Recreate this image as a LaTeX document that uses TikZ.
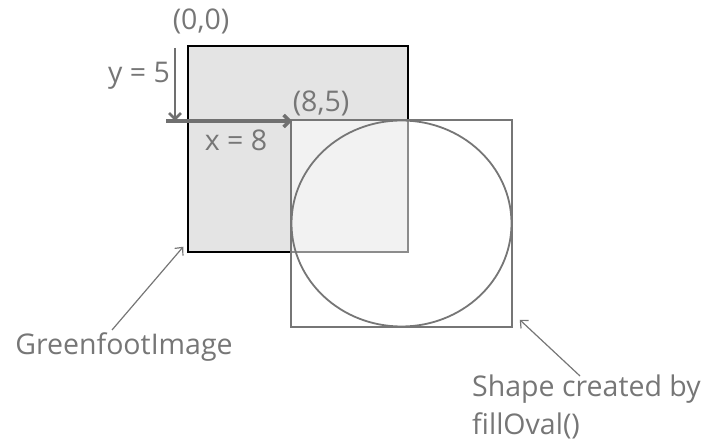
\documentclass[tikz,border=0pt]{standalone}
\usepackage{fontspec}
\setmainfont{Open Sans}
\usetikzlibrary{arrows.meta}
\definecolor{gfgray}{RGB}{118,118,118}
\definecolor{gffill}{RGB}{228,228,228}
\tikzset{
  lbl/.style={text=gfgray,font=\fontsize{28.5}{38}\selectfont,inner sep=0pt},
  axisarrow/.style={draw=gfgray!95!black,line width=3.5pt,-{Straight Barb[length=6pt,width=12pt]}},
  pointer/.style={draw=gfgray,line width=1.2pt,-{Straight Barb[length=6pt,width=11pt]}}
}
\begin{document}
\begin{tikzpicture}[x=1pt,y=-1pt]
\path[use as bounding box] (0,0) rectangle (707,446);
% image and shape
\node[draw=black,line width=1.5pt,fill=gffill,minimum width=220pt,minimum height=206pt,inner sep=0pt] (img) at (298,149) {};
\node[draw=gfgray,line width=1.5pt,fill=white,fill opacity=.55,minimum width=221pt,minimum height=207pt,inner sep=0pt] (shape) at (401.5,223.5) {};
\draw[gfgray,line width=1.8pt] (shape.center) ellipse [x radius=110pt,y radius=103pt];
% axis arrows
\coordinate (top) at (175,48);
\coordinate (corner) at (175,121);
\coordinate (left) at (166,121);
\coordinate (pt) at (292,121);
\draw[axisarrow,line width=2.8pt] (top) -- (corner);
\draw[axisarrow] (left) -- (pt);
\node[lbl] (origin) at (201,21) {(0,0)};
\node[lbl] (ylbl) at (139,76) {y = 5};
\node[lbl] (xlbl) at (236,140) {x = 8};
\node[lbl] (ptlbl) at (321,103) {(8,5)};
% captions
\node[lbl] (imglbl) at (124,347) {GreenfootImage};
\node[lbl,anchor=west] (shapelbl) at (472,389) {Shape created by};
\node[lbl,anchor=west] (ovallbl) at (472,426) {fillOval()};
\coordinate (imgtail) at (112,330);
\coordinate (shapetail) at (580,376);
\draw[pointer] (imgtail) -- ([xshift=-4pt,yshift=6pt]img.south west);
\draw[pointer] (shapetail) -- ([xshift=7pt,yshift=8pt]shape.south east);
\end{tikzpicture}
\end{document}
